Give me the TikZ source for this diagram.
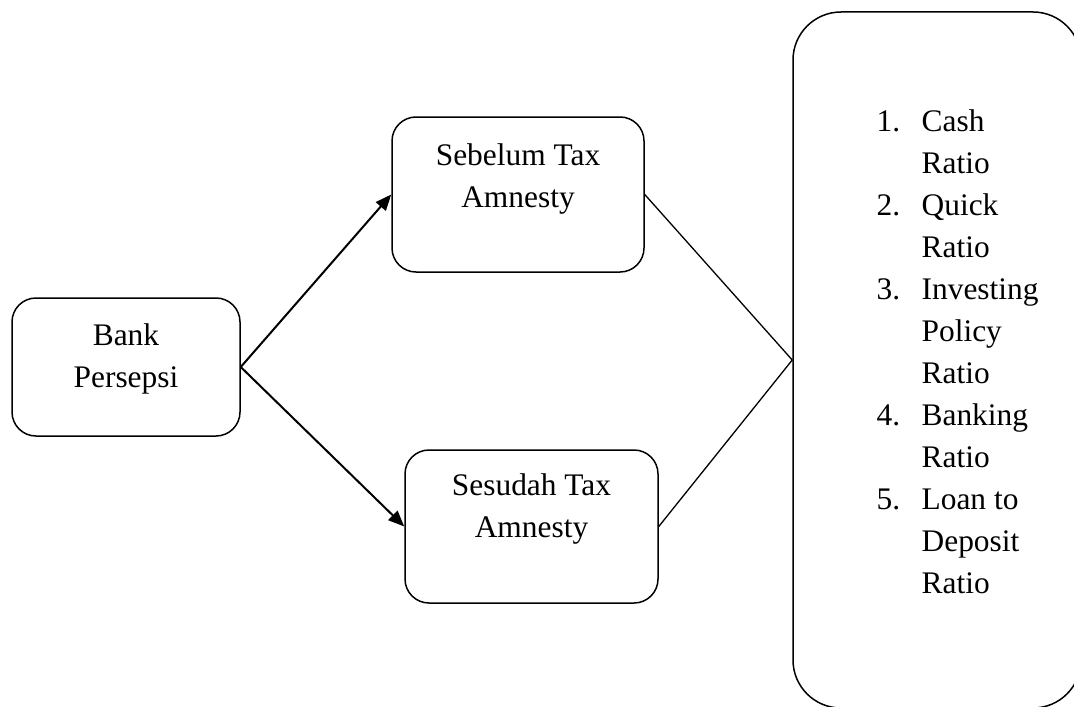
\documentclass[tikz,border=0pt]{standalone}
\usepackage{fontspec}
\setmainfont{Liberation Serif}
\usetikzlibrary{arrows.meta,positioning}

\begin{document}
\begin{tikzpicture}[x=0.5pt,y=-0.5pt,font=\fontsize{15.7}{21}\selectfont,
  box/.style={draw,line width=0.75pt,rounded corners=12pt,inner sep=0pt},
  txt/.style={align=center,inner sep=0pt},
  link/.style={line width=1pt,-{Triangle[length=8pt,width=6.5pt]}},
  tie/.style={line width=0.65pt}]
\useasboundingbox (0,0) rectangle (1074,706);

\node[box,minimum width=114pt,minimum height=69pt] (bank) at (126,367) {};
\node[txt,below=12.8pt of bank.north] (banktxt) {Bank\\Persepsi};

\node[box,minimum width=126pt,minimum height=77.5pt] (sebelum) at (518,194.5) {};
\node[txt,below=13.3pt of sebelum.north] (sebelumtxt) {Sebelum Tax\\Amnesty};

\node[box,minimum width=126.5pt,minimum height=76.5pt] (sesudah) at (531.5,526.5) {};
\node[txt,below=11.8pt of sesudah.north] (sesudahtxt) {Sesudah Tax\\Amnesty};

\node[box,rounded corners=24pt,minimum width=144pt,minimum height=348pt] (rasio) at (937,360) {};
\node[inner sep=0pt,below right=45.3pt and 42pt of rasio.north west] (rasiotxt) {%
  \begin{tabular}{@{}p{22.5pt}@{}l@{}}
    1. & Cash\\
       & Ratio\\
    2. & Quick\\
       & Ratio\\
    3. & Investing\\
       & Policy\\
       & Ratio\\
    4. & Banking\\
       & Ratio\\
    5. & Loan to\\
       & Deposit\\
       & Ratio
  \end{tabular}};

\draw[link] (bank.east) -- (sebelum.west);
\draw[link] (bank.east) -- (sesudah.west);
\draw[tie] (sebelum.east) -- (rasio.west);
\draw[tie] (sesudah.east) -- (rasio.west);
\end{tikzpicture}
\end{document}
